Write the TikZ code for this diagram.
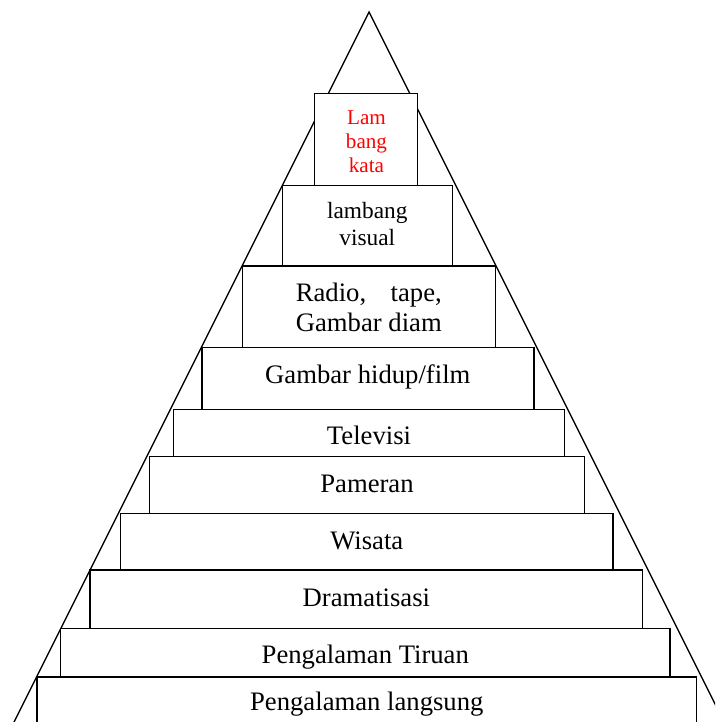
\documentclass[tikz,border=0pt]{standalone}
\usepackage{fontspec}
\setmainfont{Liberation Serif}
\begin{document}
\begin{tikzpicture}[x=0.45pt,y=-0.45pt,
  stepbox/.style={draw=black,fill=white,line width=0.6pt},
  edge/.style={draw=black,line width=0.6pt},
  lbl/.style={anchor=base,inner sep=0pt,font=\fontsize{12}{13.8}\selectfont},
  lblsmall/.style={anchor=base,inner sep=0pt,font=\fontsize{10.5}{12}\selectfont},
  lblred/.style={anchor=base,inner sep=0pt,text=red,font=\fontsize{9.5}{10.8}\selectfont}]
\useasboundingbox (0,0) rectangle (715,722);
\clip (0,0) rectangle (715,722);
\fill[white] (0,0) rectangle (715,722);
% pyramid outline
\coordinate (apex) at (369,12);
\coordinate (bl) at (14,722);
\coordinate (br) at (724,722);
\draw[edge] (bl) -- (apex) -- (br);
% steps (top to bottom)
\filldraw[stepbox] (314.3,93.3) rectangle (417.7,185.7);
\filldraw[stepbox] (282.3,185.7) rectangle (452.3,266);
\filldraw[stepbox] (242.3,266) rectangle (495.7,347.7);
\filldraw[stepbox] (202,347.7) rectangle (534,409.3);
\filldraw[stepbox] (173.3,409.3) rectangle (564.7,456.7);
\filldraw[stepbox] (149.7,456.7) rectangle (584.3,513.3);
\filldraw[stepbox] (120.7,513.3) rectangle (613,570);
\filldraw[stepbox] (90,570) rectangle (642.7,628.7);
\filldraw[stepbox] (60.7,628.7) rectangle (670,677);
\filldraw[stepbox] (37,677) rectangle (696.7,740);
% labels
\node[lblred] (t1a) at (366.5,124.3) {Lam};
\node[lblred] (t1b) at (366.5,148.3) {bang};
\node[lblred] (t1c) at (366.5,172.3) {kata};
\node[lblsmall] (t2a) at (367.3,219) {lambang};
\node[lblsmall] (t2b) at (367.3,245.7) {visual};
\node[lbl] (t3a) at (368.8,301.7) {\makebox[65.65pt][s]{Radio,\hfill tape,}};
\node[lbl] (t3b) at (368.8,331.7) {Gambar diam};
\node[lbl] (t4) at (367.8,384) {Gambar hidup/film};
\node[lbl] (t5) at (369,444.3) {Televisi};
\node[lbl] (t6) at (367,492.3) {Pameran};
\node[lbl] (t7) at (366.8,549) {Wisata};
\node[lbl] (t8) at (366.4,606) {Dramatisasi};
\node[lbl] (t9) at (365.3,663.3) {Pengalaman Tiruan};
\node[lbl] (t10) at (366.8,710) {Pengalaman langsung};
\end{tikzpicture}
\end{document}
